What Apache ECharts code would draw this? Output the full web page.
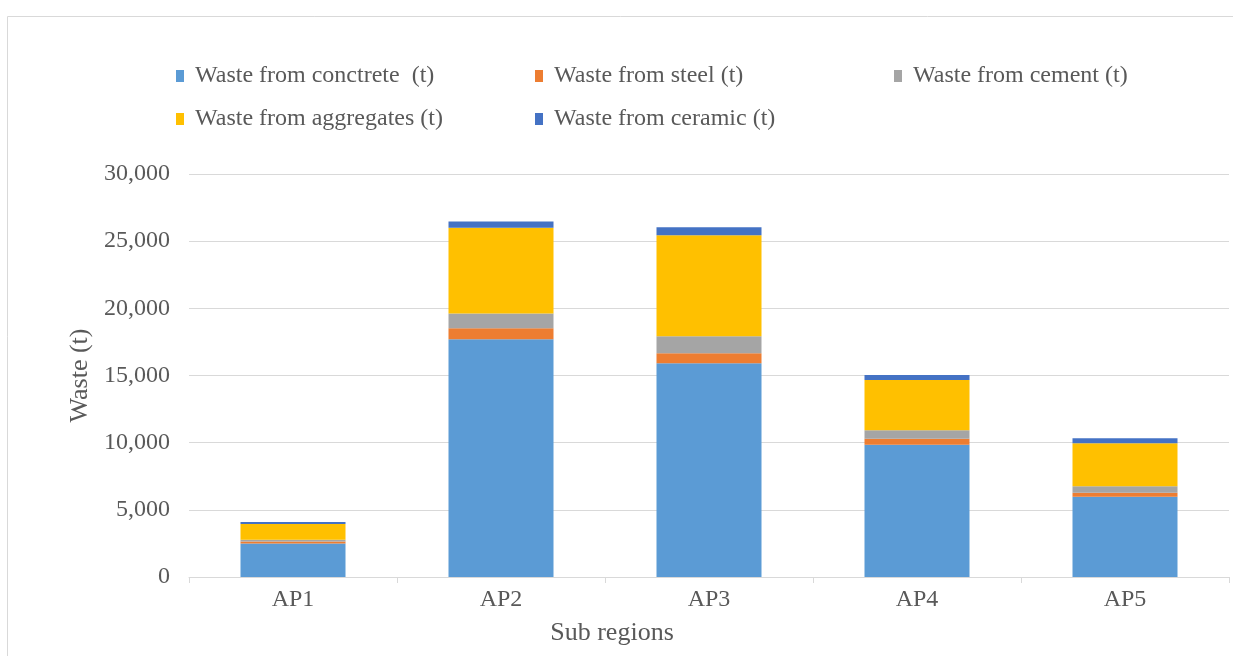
<!DOCTYPE html>
<html>
<head>
<meta charset="utf-8">
<script src="https://cdn.jsdelivr.net/npm/echarts@6/dist/echarts.min.js"></script>
<style>html,body{margin:0;padding:0;background:#fff;}#c{width:1233px;height:656px;}</style>
</head>
<body>
<div id="c"></div>
<script>
const categories = ['AP1', 'AP2', 'AP3', 'AP4', 'AP5'];
const seriesNames = ['Waste from conctrete  (t)', 'Waste from steel (t)', 'Waste from cement (t)', 'Waste from aggregates (t)', 'Waste from ceramic (t)'];
const concrete = [2500, 17700, 15910, 9850, 5980];
const steel = [150, 820, 750, 450, 300];
const cement = [130, 1090, 1260, 620, 470];
const aggregates = [1170, 6380, 7520, 3750, 3210];
const ceramic = [150, 470, 600, 370, 370];
const colors = ['#5B9BD5', '#ED7D31', '#A5A5A5', '#FFC000', '#4472C4'];

const dataSets = [concrete, steel, cement, aggregates, ceramic];
const font = '"Liberation Serif", "Times New Roman", serif';
const txt = '#595959';

const chart = echarts.init(document.getElementById('c'));
chart.setOption({
  animation: false,
  color: colors,
  graphic: [{
    type: 'rect', left: 5, top: 14, shape: {width: 1260, height: 700},
    style: {fill: 'none', stroke: '#d9d9d9', lineWidth: 1}, silent: true, z: -1
  }],
  legend: {
    left: 171, top: 57, width: 1070,
    itemWidth: 8, itemHeight: 12, itemGap: 15,
    icon: 'rect',
    textStyle: {fontFamily: font, fontSize: 24, color: txt, width: 325, lineHeight: 28, padding: [0,0,0,6]},
    data: seriesNames
  },
  grid: {left: 189, right: 4, top: 174, bottom: 79},
  xAxis: {
    type: 'category', data: categories,
    name: 'Sub regions', nameLocation: 'middle', nameGap: 43,
    nameTextStyle: {fontFamily: font, fontSize: 26, color: txt, padding: [0, 194, 0, 0]},
    axisLine: {lineStyle: {color: '#d9d9d9', width: 1}},
    axisTick: {show: true, length: 6, lineStyle: {color: '#d9d9d9'}},
    axisLabel: {fontFamily: font, fontSize: 24, color: txt, margin: 11}
  },
  yAxis: {
    type: 'value', min: 0, max: 30000, interval: 5000,
    name: 'Waste (t)', nameLocation: 'middle', nameGap: 96,
    nameTextStyle: {fontFamily: font, fontSize: 26, color: txt},
    axisLine: {show: false}, axisTick: {show: false},
    splitLine: {lineStyle: {color: '#d9d9d9', width: 1}},
    axisLabel: {fontFamily: font, fontSize: 24, color: txt, margin: 19,
      formatter: v => v.toLocaleString('en-US')}
  },
  series: seriesNames.map((n, i) => ({
    name: n, type: 'bar', stack: 'total', barWidth: 105,
    data: dataSets[i],
    itemStyle: {color: colors[i]}
  }))
});
</script>
</body>
</html>
